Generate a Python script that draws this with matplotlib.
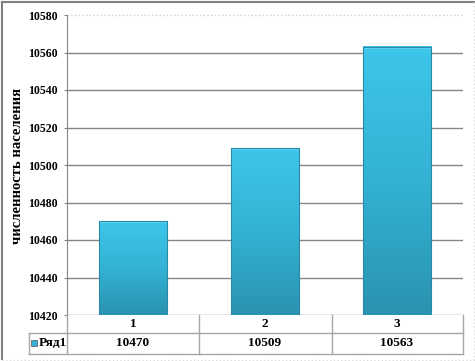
import numpy as np
import matplotlib.pyplot as plt
from matplotlib.colors import LinearSegmentedColormap
from matplotlib.lines import Line2D
from matplotlib.patches import Rectangle
import matplotlib.transforms as mtransforms

plt.rcParams['font.family'] = ['Liberation Serif', 'DejaVu Serif']

categories = ['1', '2', '3']
values = [10470, 10509, 10563]
series_name = 'Ряд1'
ylabel = 'численность населения'
ymin, ymax, ystep = 10420, 10580, 20

W, H = 475, 361
fig = plt.figure(figsize=(W / 100, H / 100), dpi=100)

def fx(px):
    return px / W

def fy(py):
    return 1 - py / H

# plot area in pixels
L, R, T, B = 67, 463, 15, 315
ax = fig.add_axes([fx(L), fy(B), fx(R - L), (B - T) / H])

x = np.arange(len(categories))
ax.set_yticks(np.arange(ymin, ymax + 1, ystep))
ax.set_xticks([])
for lab in ax.get_yticklabels():
    lab.set_fontweight('bold')
ax.tick_params(axis='y', labelsize=8.5, length=2, color='#868686', pad=4.5)
for s in ['top', 'right', 'bottom']:
    ax.spines[s].set_visible(False)
ax.spines['left'].set_color('#868686')
ax.yaxis.grid(True, color='#868686', linewidth=1)
ax.set_axisbelow(True)

# gradient bars
cmap = LinearSegmentedColormap.from_list('bar', ['#2a93b0', '#33b2d4', '#3dc6ea'])
grad = np.linspace(0, 1, 256).reshape(-1, 1)
bw = 0.52
for xi, v in zip(x, values):
    ax.imshow(grad, extent=[xi - bw / 2, xi + bw / 2, ymin, v], origin='lower',
              cmap=cmap, aspect='auto', zorder=3)
    ax.add_patch(Rectangle((xi - bw / 2, v - 1.0), bw, 1.0, color='#5fd6f2',
                           linewidth=0, zorder=4))
    ax.add_patch(Rectangle((xi - bw / 2, ymin), bw, v - ymin, fill=False,
                           edgecolor='#2a8aa5', linewidth=0.8, zorder=5))
ax.set_xlim(-0.5, len(categories) - 0.5)
ax.set_ylim(ymin, ymax)

# top gridline is faint and dotted
ax.yaxis.get_gridlines()[-1].set_visible(False)
ax.axhline(ymax, color='#d0d0d0', linewidth=1, linestyle=':', zorder=2, clip_on=False)

fig.text(fx(18), fy(166), ylabel, rotation=90, ha='center', va='center',
         fontsize=10.5, fontweight='bold')

# data table under the plot
tc = '#a6a6a6'
r1, r2, r3 = 315, 333, 354
colx = [67, 199, 332, 463]
def hline(y, x0, x1):
    fig.add_artist(Line2D([fx(x0), fx(x1)], [fy(y), fy(y)], color=tc, linewidth=1))
def vline(xp, y0, y1):
    fig.add_artist(Line2D([fx(xp), fx(xp)], [fy(y0), fy(y1)], color=tc, linewidth=1))
hline(r2, 29, 463)
hline(r3, 29, 463)
for c in colx:
    vline(c, r1, r3)
vline(29, r2, r3)

trans = mtransforms.blended_transform_factory(ax.transData, fig.transFigure)
for xi, cat, v in zip(x, categories, values):
    fig.text(xi, fy((r1 + r2) / 2), cat, transform=trans, ha='center', va='center',
             fontsize=9.5, fontweight='bold')
    fig.text(xi, fy((r2 + r3) / 2), str(v), transform=trans, ha='center', va='center',
             fontsize=9.5, fontweight='bold')
fig.add_artist(Rectangle((fx(31), fy(346)), fx(6), 6 / H, facecolor='#33b2d4',
                         edgecolor='#555555', linewidth=0.5))
fig.text(fx(39), fy((r2 + r3) / 2), series_name, ha='left', va='center',
         fontsize=9.5, fontweight='bold')

# outer frame
fig.add_artist(Line2D([fx(1.5), fx(1.5)], [fy(1.5), fy(359)], color='#808080', linewidth=1.5))
fig.add_artist(Line2D([fx(1.5), fx(474)], [fy(1.5), fy(1.5)], color='#808080', linewidth=1.5))
fig.add_artist(Line2D([fx(1.5), fx(474)], [fy(359.5), fy(359.5)], color='#dddddd',
                      linewidth=1, linestyle=':'))
fig.add_artist(Line2D([fx(474), fx(474)], [fy(1.5), fy(359.5)], color='#dddddd',
                      linewidth=1, linestyle=':'))

fig.savefig('out.png', dpi=100)
